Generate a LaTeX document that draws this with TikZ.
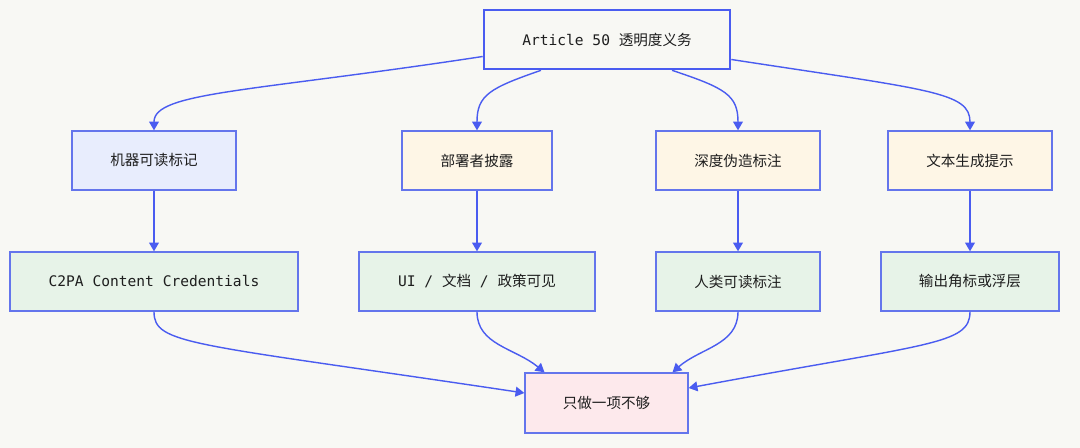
\documentclass[tikz,border=0pt]{standalone}
\usepackage{fontspec}
\setmainfont{DejaVu Sans Mono}
\newfontfamily\cjk{Noto Sans CJK SC}
\usetikzlibrary{arrows.meta,calc}
\definecolor{bg}{HTML}{F8F8F4}
\definecolor{edge}{HTML}{4A5CF0}
\definecolor{border}{HTML}{6475EC}
\definecolor{fblue}{HTML}{E8EDFD}
\definecolor{fyel}{HTML}{FEF6E6}
\definecolor{fgrn}{HTML}{E7F3E8}
\definecolor{fpink}{HTML}{FDE9EC}
\definecolor{txt}{HTML}{1E1E1E}
\begin{document}
\begin{tikzpicture}[x=0.02cm,y=-0.02cm,
  box/.style={draw=border,line width=0.75pt,inner sep=0pt,text=txt,font=\fontsize{8.3pt}{10pt}\selectfont,minimum height=59*0.02cm},
  conn/.style={draw=edge,line width=0.8pt,-{Triangle[length=5pt,width=5.6pt]}}]
\useasboundingbox[fill=bg] (0,0) rectangle (1080,448);
\node[box,draw=edge,line width=1.5pt,fill=bg,minimum width=246*0.02cm] (top) at (607,39.5) {Article 50 {\cjk 透明度义务}};
\node[box,fill=fblue,minimum width=164*0.02cm] (m1) at (154,160.5) {\cjk 机器可读标记};
\node[box,fill=fyel,minimum width=150*0.02cm] (m2) at (477,160.5) {\cjk 部署者披露};
\node[box,fill=fyel,minimum width=164*0.02cm] (m3) at (738,160.5) {\cjk 深度伪造标注};
\node[box,fill=fyel,minimum width=164*0.02cm] (m4) at (970,160.5) {\cjk 文本生成提示};
\node[box,fill=fgrn,minimum width=288*0.02cm] (b1) at (154,281.5) {C2PA Content Credentials};
\node[box,fill=fgrn,minimum width=236*0.02cm] (b2) at (477,281.5) {UI / {\cjk 文档} / {\cjk 政策可见}};
\node[box,fill=fgrn,minimum width=164*0.02cm] (b3) at (738,281.5) {\cjk 人类可读标注};
\node[box,fill=fgrn,minimum width=178*0.02cm] (b4) at (970,281.5) {\cjk 输出角标或浮层};
\node[box,fill=fpink,minimum width=163*0.02cm,minimum height=60*0.02cm] (f) at (606.5,403) {\cjk 只做一项不够};
\draw[conn] ($(top.west)+(0,17)$) .. controls (250,92) and (154,92) .. (m1.north);
\draw[conn] ($(top.south)+(-66,0)$) .. controls (490,88) and (477,95) .. (m2.north);
\draw[conn] ($(top.south)+(65,0)$) .. controls (725,88) and (738,95) .. (m3.north);
\draw[conn] ($(top.east)+(0,20)$) .. controls (930,90) and (970,92) .. (m4.north);
\draw[conn] (m1) -- (b1);
\draw[conn] (m2) -- (b2);
\draw[conn] (m3) -- (b3);
\draw[conn] (m4) -- (b4);
\draw[conn] (b1.south) .. controls (154,345) and (190,343) .. ($(f.west)+(0,-10)$);
\draw[conn] (b2.south) .. controls (477,345) and (515,348) .. ($(f.north)+(-62,0)$);
\draw[conn] (b3.south) .. controls (738,345) and (700,348) .. ($(f.north)+(66,0)$);
\draw[conn] (b4.south) .. controls (970,345) and (930,343) .. ($(f.east)+(0,-15)$);
\end{tikzpicture}
\end{document}
